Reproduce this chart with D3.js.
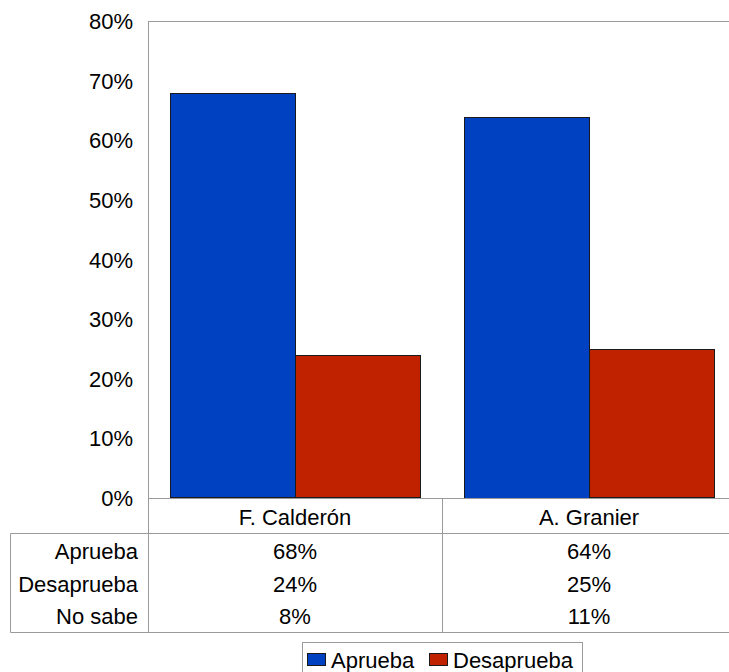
<!DOCTYPE html>
<html>
<head>
<meta charset="utf-8">
<script src="https://cdn.jsdelivr.net/npm/d3@7"></script>
<style>
  html, body { margin: 0; padding: 0; background: #fff; }
  svg { display: block; }
  text { font-family: "Liberation Sans", Arial, sans-serif; font-size: 22px; fill: #000; }
</style>
</head>
<body>
<svg id="chart" width="729" height="672"></svg>
<script>
const categories = ["F. Calderón", "A. Granier"];
const series = ["Aprueba", "Desaprueba"];
const aprueba = [68, 64];
const desaprueba = [24, 25];
const noSabe = [8, 11];
const tableRows = ["Aprueba", "Desaprueba", "No sabe"];
const yTicks = [0, 10, 20, 30, 40, 50, 60, 70, 80];
const colors = ["#0041c2", "#c02200"];

const svg = d3.select("#chart");
const plotLeft = 148, plotRight = 736, plotTop = 21.5, plotBottom = 498.5;
const tableTop = 533.5, tableBottom = 632.5, tableLeft = 10.5;
const lineColor = "#9a9a9a";
const fontSize = "22px";

const x0 = d3.scaleBand().domain(categories).range([plotLeft, plotRight]).padding(0);
const x1 = d3.scaleBand().domain(series).range([21.5, x0.bandwidth() - 22.5]).padding(0);
const y = d3.scaleLinear().domain([0, 80]).range([plotBottom, plotTop]);

// plot frame top border
svg.append("line").attr("x1", plotLeft).attr("x2", 729).attr("y1", plotTop).attr("y2", plotTop)
  .attr("stroke", lineColor).attr("stroke-width", 1);

// bars
const values = [aprueba, desaprueba];
const g = svg.append("g");
categories.forEach((c, ci) => {
  series.forEach((s, si) => {
    const v = values[si][ci];
    g.append("rect")
      .attr("x", Math.round(x0(c) + x1(s)) + 0.5)
      .attr("y", Math.round(y(v)) + 0.5)
      .attr("width", Math.round(x1.bandwidth()))
      .attr("height", Math.round(y(0) - y(v)) - 1)
      .attr("fill", colors[si])
      .attr("stroke", "#1a1a1a")
      .attr("stroke-width", 1);
  });
});

// y axis
const yAxis = d3.axisLeft(y).tickValues(yTicks).tickFormat(d => d + "%").tickSize(0).tickPadding(15);
const ya = svg.append("g").attr("transform", `translate(${plotLeft},0)`).call(yAxis);
ya.select(".domain").remove();
ya.selectAll("text").style("font-size", fontSize).attr("font-family", "Liberation Sans, Arial, sans-serif").attr("fill", "#000");
svg.append("line").attr("x1", plotLeft + 0.5).attr("x2", plotLeft + 0.5).attr("y1", plotTop).attr("y2", tableBottom)
  .attr("stroke", lineColor);

// table lines
const hl = (yy, xa_, xb_) => svg.append("line").attr("x1", xa_).attr("x2", xb_).attr("y1", yy).attr("y2", yy).attr("stroke", lineColor);
const vl = (xx, ya_, yb_) => svg.append("line").attr("x1", xx).attr("x2", xx).attr("y1", ya_).attr("y2", yb_).attr("stroke", lineColor);
hl(plotBottom, plotLeft, 729);
hl(tableTop, tableLeft, 729);
hl(tableBottom, tableLeft, 729);
vl(tableLeft, tableTop, tableBottom);
categories.forEach((c, i) => { if (i > 0) vl(Math.round(x0(c)) + 0.5, plotBottom, tableBottom); });

// category labels
const xAxis = d3.axisBottom(x0).tickSize(0).tickPadding(0);
const xa = svg.append("g").attr("transform", `translate(0,${plotBottom})`).call(xAxis);
xa.select(".domain").remove();
xa.selectAll("text").attr("dy", null).attr("y", 19).attr("dominant-baseline", "central")
  .style("font-size", fontSize).attr("font-family", "Liberation Sans, Arial, sans-serif").attr("fill", "#000");

// table rows
const tableData = [aprueba, desaprueba, noSabe];
const rowY = [551.5, 584.5, 616.5];
tableRows.forEach((r, ri) => {
  svg.append("text").attr("x", 138).attr("y", rowY[ri]).attr("text-anchor", "end")
    .attr("dominant-baseline", "central").text(r);
  categories.forEach((c, ci) => {
    svg.append("text").attr("x", x0(c) + x0.bandwidth() / 2).attr("y", rowY[ri])
      .attr("text-anchor", "middle").attr("dominant-baseline", "central").text(tableData[ri][ci] + "%");
  });
});

// legend
const lg = svg.append("g");
lg.append("rect").attr("x", 302.5).attr("y", 642.5).attr("width", 280).attr("height", 34)
  .attr("fill", "#fff").attr("stroke", lineColor);
const legendX = [307, 429];
series.forEach((s, si) => {
  lg.append("rect").attr("x", legendX[si] + 0.5).attr("y", 653.5).attr("width", 18).attr("height", 12)
    .attr("fill", colors[si]).attr("stroke", "#1a1a1a");
  lg.append("text").attr("x", legendX[si] + 24).attr("y", 660).attr("dominant-baseline", "central").text(s);
});
</script>
</body>
</html>
